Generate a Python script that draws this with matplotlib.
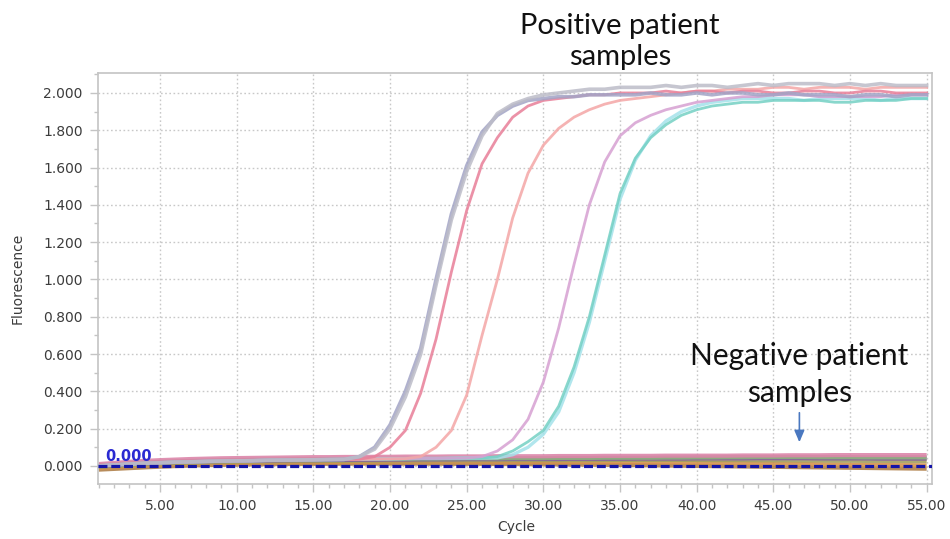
import matplotlib
matplotlib.use("Agg")
import matplotlib.pyplot as plt
from matplotlib.ticker import MultipleLocator, FormatStrFormatter

cycles = list(range(1, 56))

# shared pre-amplification baseline (cycles 1..27)
baseline = [0.000, 0.005, 0.010, 0.014, 0.017, 0.020, 0.022, 0.024, 0.026, 0.027,
            0.028, 0.030, 0.031, 0.032, 0.033, 0.034, 0.035, 0.036, 0.037, 0.038,
            0.039, 0.040, 0.040, 0.041, 0.042, 0.042, 0.043]

pos_grey = baseline[:17] + [0.05, 0.09, 0.20, 0.37, 0.60, 0.97, 1.32, 1.58, 1.77, 1.89,
                            1.94, 1.97, 1.99, 2.00, 2.01, 2.02, 2.02, 2.03,
                            2.03, 2.03, 2.04, 2.03, 2.04, 2.04, 2.03, 2.04, 2.05, 2.04,
                            2.05, 2.05, 2.05, 2.04, 2.05, 2.04, 2.05, 2.04, 2.04, 2.04]
pos_lavender = baseline[:17] + [0.05, 0.10, 0.22, 0.40, 0.63, 1.00, 1.35, 1.61, 1.79, 1.88,
                                1.93, 1.96, 1.97, 1.98, 1.98, 1.99, 1.99, 1.99,
                                1.99, 2.00, 1.99, 1.99, 2.00, 1.99, 2.00, 2.00, 1.99, 1.99,
                                2.00, 1.99, 1.99, 1.99, 1.98, 1.99, 1.99, 1.98, 1.99, 1.99]
pos_crimson = baseline[:18] + [0.05, 0.10, 0.19, 0.39, 0.68, 1.04, 1.37, 1.62, 1.76, 1.87,
                               1.93, 1.96, 1.97, 1.98, 1.99, 1.99, 2.00,
                               2.00, 2.00, 2.01, 2.00, 2.01, 2.01, 2.00, 2.01, 2.01, 2.00,
                               2.00, 2.01, 2.01, 2.00, 2.00, 2.01, 2.01, 2.00, 2.00, 2.00]
pos_salmon = baseline[:21] + [0.05, 0.10, 0.19, 0.38, 0.70, 1.00, 1.33, 1.57, 1.72, 1.81,
                              1.87, 1.91, 1.94, 1.96,
                              1.97, 1.98, 1.99, 2.00, 2.01, 2.01, 2.02, 2.02, 2.02, 2.03,
                              2.03, 2.02, 2.03, 2.03, 2.03, 2.02, 2.03, 2.03, 2.03, 2.03]
pos_orchid = baseline[:25] + [0.05, 0.08, 0.14, 0.25, 0.45, 0.74, 1.08, 1.40, 1.63, 1.77,
                              1.84, 1.88, 1.91, 1.93, 1.95, 1.96, 1.97, 1.98, 1.98, 1.99,
                              1.99, 1.99, 1.98, 1.98, 1.98, 1.98, 1.98, 1.99, 1.99, 1.99]
pos_teal = baseline[:26] + [0.05, 0.08, 0.13, 0.19, 0.32, 0.53, 0.80, 1.13, 1.46,
                            1.65, 1.76, 1.83, 1.88, 1.91, 1.93, 1.94, 1.95, 1.95, 1.96,
                            1.96, 1.96, 1.96, 1.95, 1.95, 1.96, 1.96, 1.96, 1.97, 1.97]
pos_cyan = baseline[:27] + [0.06, 0.10, 0.17, 0.29, 0.50, 0.77, 1.10, 1.43,
                            1.64, 1.77, 1.85, 1.90, 1.93, 1.95, 1.96, 1.97, 1.97, 1.97,
                            1.97, 1.96, 1.97, 1.97, 1.97, 1.97, 1.96, 1.97, 1.97, 1.97]

neg_pink = [0.010, 0.016, 0.022, 0.027, 0.031, 0.034, 0.037, 0.039, 0.041, 0.042,
            0.043, 0.044, 0.045, 0.046, 0.047, 0.047, 0.048, 0.048, 0.049, 0.049,
            0.050, 0.050, 0.050, 0.051, 0.051, 0.051, 0.052, 0.052, 0.052, 0.052,
            0.053, 0.053, 0.053, 0.054, 0.054, 0.054, 0.054, 0.055, 0.055, 0.055,
            0.055, 0.055, 0.056, 0.056, 0.056, 0.057, 0.057, 0.057, 0.058, 0.058,
            0.058, 0.058, 0.058, 0.058, 0.058]
neg_green = [0.004, 0.009, 0.014, 0.018, 0.022, 0.025, 0.027, 0.029, 0.031, 0.032,
             0.033, 0.034, 0.035, 0.036, 0.036, 0.037, 0.037, 0.038, 0.038, 0.039,
             0.039, 0.040, 0.040, 0.040, 0.041, 0.041, 0.041, 0.042, 0.042, 0.042,
             0.043, 0.043, 0.043, 0.044, 0.044, 0.044, 0.044, 0.045, 0.045, 0.046,
             0.046, 0.047, 0.047, 0.048, 0.048, 0.048, 0.048, 0.047, 0.047, 0.047,
             0.046, 0.046, 0.046, 0.046, 0.046]
neg_purple = [0.000, 0.005, 0.010, 0.014, 0.018, 0.021, 0.023, 0.025, 0.026, 0.027,
              0.028, 0.029, 0.030, 0.031, 0.031, 0.032, 0.032, 0.033, 0.033, 0.034,
              0.034, 0.035, 0.035, 0.035, 0.036, 0.036, 0.036, 0.037, 0.037, 0.037,
              0.037, 0.038, 0.038, 0.038, 0.038, 0.039, 0.039, 0.039, 0.039, 0.040,
              0.040, 0.040, 0.040, 0.041, 0.041, 0.041, 0.041, 0.040, 0.040, 0.040,
              0.040, 0.039, 0.039, 0.039, 0.039]
neg_olive = [-0.006, -0.001, 0.004, 0.008, 0.012, 0.015, 0.017, 0.019, 0.021, 0.022,
             0.023, 0.024, 0.025, 0.026, 0.026, 0.027, 0.027, 0.028, 0.028, 0.029,
             0.029, 0.029, 0.030, 0.030, 0.030, 0.030, 0.031, 0.031, 0.031, 0.031,
             0.031, 0.031, 0.031, 0.032, 0.032, 0.032, 0.032, 0.032, 0.032, 0.032,
             0.031, 0.031, 0.031, 0.030, 0.030, 0.030, 0.029, 0.029, 0.028, 0.028,
             0.027, 0.027, 0.026, 0.026, 0.026]
neg_orange = [-0.012, -0.007, -0.002, 0.003, 0.007, 0.010, 0.012, 0.014, 0.016, 0.017,
              0.018, 0.019, 0.020, 0.020, 0.021, 0.021, 0.022, 0.022, 0.022, 0.023,
              0.023, 0.023, 0.023, 0.023, 0.023, 0.023, 0.022, 0.022, 0.022, 0.022,
              0.021, 0.021, 0.021, 0.020, 0.020, 0.019, 0.019, 0.018, 0.018, 0.017,
              0.016, 0.015, 0.014, 0.013, 0.012, 0.011, 0.010, 0.009, 0.008, 0.007,
              0.006, 0.005, 0.004, 0.004, 0.003]
neg_brown = [-0.020, -0.016, -0.012, -0.008, -0.004, -0.001, 0.002, 0.004, 0.006, 0.007,
             0.008, 0.009, 0.010, 0.010, 0.011, 0.011, 0.012, 0.012, 0.012, 0.012,
             0.012, 0.012, 0.012, 0.011, 0.011, 0.011, 0.010, 0.010, 0.009, 0.009,
             0.008, 0.007, 0.007, 0.006, 0.005, 0.004, 0.003, 0.002, 0.001, 0.000,
             -0.001, -0.002, -0.003, -0.004, -0.005, -0.006, -0.007, -0.008, -0.009, -0.010,
             -0.011, -0.012, -0.013, -0.014, -0.015]

threshold = 0.0
x_ticks = [5, 10, 15, 20, 25, 30, 35, 40, 45, 50, 55]
y_ticks = [0.0, 0.2, 0.4, 0.6, 0.8, 1.0, 1.2, 1.4, 1.6, 1.8, 2.0]

negatives = [(neg_brown, "#b0804a"), (neg_orange, "#d4924e"), (neg_olive, "#a4a060"),
             (neg_purple, "#8462a0"), (neg_green, "#8cb27e"), (neg_pink, "#dc86aa")]
positives = [(pos_cyan, "#a4e2ea", 2.4), (pos_teal, "#74d0c4", 2.0),
             (pos_orchid, "#d6a0d2", 2.0), (pos_salmon, "#f4a6a6", 2.0),
             (pos_crimson, "#e87e98", 2.0), (pos_lavender, "#a2a4c6", 2.6),
             (pos_grey, "#bcbcc8", 2.6)]

fig = plt.figure(figsize=(9.5, 5.39), dpi=100)
ax = fig.add_axes([98 / 950, 1 - 484 / 539, (932 - 98) / 950, (484 - 73) / 539])

for vals, col in negatives:
    ax.plot(cycles, vals, color=col, lw=3.0, alpha=0.9, solid_capstyle="butt", zorder=2)
for vals, col, lw in positives:
    ax.plot(cycles, vals, color=col, lw=lw, alpha=0.85, zorder=3)

ax.axhline(threshold, color="#1414a8", lw=2.3, dashes=(2.8, 1.2), zorder=5)
ax.text(1.45, threshold + 0.012, "0.000", color="#2a2ad2", fontsize=10.5,
        fontweight="bold", ha="left", va="bottom", zorder=6)

ax.set_xlim(0.95, 55.35)
ax.set_ylim(-0.097, 2.107)
ax.set_xticks(x_ticks)
ax.set_yticks(y_ticks)
ax.xaxis.set_minor_locator(MultipleLocator(1))
ax.yaxis.set_minor_locator(MultipleLocator(0.1))
ax.xaxis.set_major_formatter(FormatStrFormatter("%.2f"))
ax.yaxis.set_major_formatter(FormatStrFormatter("%.3f"))
ax.tick_params(axis="both", which="major", length=6, width=1, color="#c4c4c4",
               labelsize=10, labelcolor="#3c3c3c", pad=5)
ax.tick_params(axis="both", which="minor", length=3, width=1, color="#c4c4c4")
ax.grid(True, which="major", linestyle=(0, (1.2, 1.8)), color="#c8c8c8", lw=1)
for sp in ax.spines.values():
    sp.set_color("#c4c4c4")
    sp.set_linewidth(1.2)

fig.text(18 / 950, 1 - 278 / 539, "Fluorescence", rotation=90, ha="center", va="center",
         fontsize=10, color="#3c3c3c")
fig.text(516 / 950, 1 - 527 / 539, "Cycle", ha="center", va="center",
         fontsize=10, color="#3c3c3c")

fig.text(620 / 950, 1 - 34 / 539, "Positive patient", ha="center", va="baseline",
         fontsize=21, family="Lato", color="#111111")
fig.text(620 / 950, 1 - 65 / 539, "samples", ha="center", va="baseline",
         fontsize=21, family="Lato", color="#111111")
ax.text(46.7, (466 - 365) / 186.5, "Negative patient", ha="center", va="baseline",
        fontsize=21.5, family="Lato", color="#111111", zorder=7)
ax.text(46.7, (466 - 402) / 186.5, "samples", ha="center", va="baseline",
        fontsize=21.5, family="Lato", color="#111111", zorder=7)
ax.annotate("", xy=(46.7, 0.112), xytext=(46.7, 0.30),
            arrowprops=dict(arrowstyle="-|>,head_length=0.7,head_width=0.3",
                            color="#4a78c0", lw=1.2), zorder=7)

fig.savefig("out.png", dpi=100)
